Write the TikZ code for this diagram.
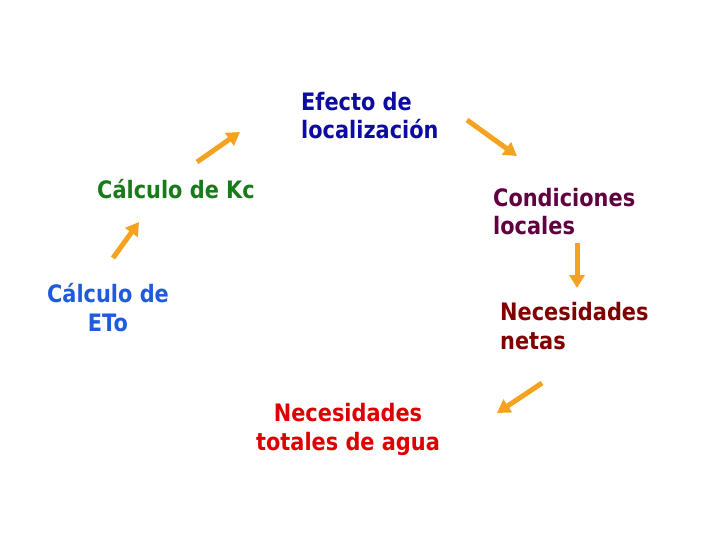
\documentclass[tikz,border=0pt]{standalone}
\usepackage{fontspec}
\setmainfont{DejaVu Sans}[FakeStretch=0.87]
\usetikzlibrary{arrows.meta}
\definecolor{cblue}{RGB}{12,12,160}
\definecolor{cgreen}{RGB}{24,122,24}
\definecolor{cpurple}{RGB}{96,0,64}
\definecolor{cdred}{RGB}{128,0,0}
\definecolor{cred}{RGB}{222,0,0}
\definecolor{cleft}{RGB}{30,92,220}
\definecolor{corange}{RGB}{245,162,30}
\tikzset{
  lbl/.style={inner sep=0pt, font=\fontsize{24pt}{28.5pt}\selectfont\bfseries},
  flow/.style={draw=corange, line width=5pt, -{Triangle[width=15pt,length=13pt]}}
}
\begin{document}
\begin{tikzpicture}[x=1pt,y=-1pt]
\useasboundingbox (0,0) rectangle (720,540);
\node[lbl, text=cblue, align=left, anchor=base west] (efecto) at (301,139) {Efecto de\\localización};
\node[lbl, text=cgreen, align=left, anchor=base west] (kc) at (97,199) {Cálculo de Kc};
\node[lbl, text=cpurple, align=left, anchor=base west] (cond) at (493,235) {Condiciones\\locales};
\node[lbl, text=cleft, align=center, anchor=base] (eto) at (108,331) {Cálculo de\\ETo};
\node[lbl, text=cdred, align=left, anchor=base west] (netas) at (500,349) {Necesidades\\netas};
\node[lbl, text=cred, align=center, anchor=base] (totales) at (348,450) {Necesidades\\totales de agua};
\coordinate (a1s) at (197,162); \coordinate (a1e) at (240,132);
\coordinate (a2s) at (467,120); \coordinate (a2e) at (517,156);
\coordinate (a3s) at (577,243); \coordinate (a3e) at (577,288);
\coordinate (a4s) at (542,383); \coordinate (a4e) at (497,413);
\coordinate (a5s) at (113,258); \coordinate (a5e) at (139,222);
\draw[flow] (a1s) -- (a1e);
\draw[flow] (a2s) -- (a2e);
\draw[flow] (a3s) -- (a3e);
\draw[flow] (a4s) -- (a4e);
\draw[flow] (a5s) -- (a5e);
\end{tikzpicture}
\end{document}
